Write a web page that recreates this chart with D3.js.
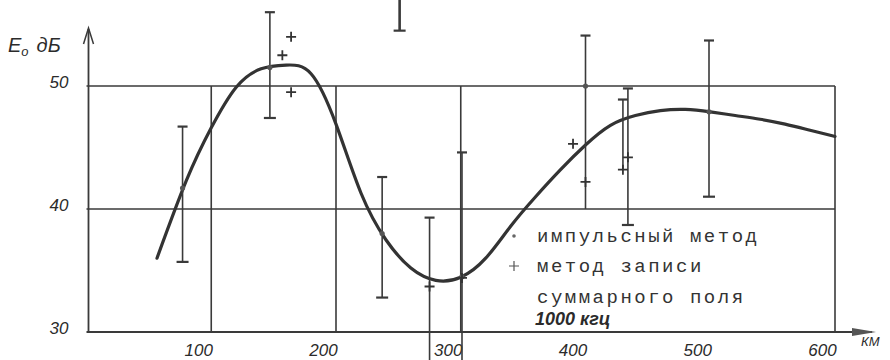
<!DOCTYPE html>
<html>
<head>
<meta charset="utf-8">
<script src="https://cdn.jsdelivr.net/npm/d3@7"></script>
<style>
  body { margin: 0; background: #fff; }
  svg { display: block; }
  .hand { font-family: "Liberation Sans", sans-serif; font-style: italic; fill: #2b2b2b; }
  .typ { font-family: "Liberation Mono", monospace; font-size: 19px; letter-spacing: 2.5px; fill: #333; }
</style>
</head>
<body>
<svg id="chart" width="890" height="360"></svg>
<script>
// smooth curve (km, dB)
const curveKm = [56.5, 80, 100, 120, 140, 160, 180, 200, 220, 240, 260, 280, 300, 320, 340, 360, 380, 400, 420, 440, 460, 480, 500, 520, 540, 560, 580, 600];
const curveDb = [36.0, 42.3, 46.6, 49.9, 51.4, 51.7, 51.0, 46.9, 41.3, 37.5, 35.2, 34.2, 34.45, 36.0, 38.6, 41.0, 43.2, 45.2, 46.8, 47.6, 48.0, 48.1, 47.9, 47.6, 47.3, 46.9, 46.4, 45.9];

// error bars: position, low, high, whether the low end has a cap
const barKm  = [77, 147, 237, 275, 301, 400, 430, 434, 499, 251];
const barLo  = [35.7, 47.4, 32.8, 27.7, 27.7, 40.0, 43.2, 38.7, 41.0, 54.5];
const barHi  = [46.7, 56.0, 42.6, 39.3, 44.6, 54.1, 48.9, 49.8, 53.7, 58.0];
const barCap = [1, 1, 1, 0, 0, 0, 0, 1, 1, 1];

// "импульсный метод" points
const dotKm = [77, 147, 237, 301, 400, 499];
const dotDb = [41.7, 51.5, 38.0, 34.5, 50.0, 47.9];

// "метод записи суммарного поля" points
const plusKm = [157, 164, 164, 275, 301, 390, 400, 430, 434];
const plusDb = [52.5, 54.0, 49.5, 33.7, 34.4, 45.3, 42.2, 43.2, 44.2];

const xTicks = [100, 200, 300, 400, 500, 600];
const yTicks = [30, 40, 50];
const gridX = [100, 200, 300, 600];
const gridY = [40, 50];

const ink = "#3a3a3a";
const svg = d3.select("#chart");

const x = d3.scaleLinear().domain([0, 600]).range([86.5, 835]);
const y = d3.scaleLinear().domain([30, 50]).range([332, 86]);

// grid
svg.append("g").selectAll("line")
   .data(gridY)
   .enter().append("line")
   .attr("x1", x(0)).attr("x2", x(600))
   .attr("y1", d => y(d)).attr("y2", d => y(d))
   .attr("stroke", ink).attr("stroke-width", 1.6);

svg.append("g").selectAll("line")
   .data(gridX)
   .enter().append("line")
   .attr("x1", d => x(d)).attr("x2", d => x(d))
   .attr("y1", y(30)).attr("y2", y(50))
   .attr("stroke", ink).attr("stroke-width", 1.6);

// axes lines with arrows
svg.append("line")
   .attr("x1", x(0)).attr("x2", 872)
   .attr("y1", y(30)).attr("y2", y(30))
   .attr("stroke", ink).attr("stroke-width", 2);
svg.append("path")
   .attr("d", `M852,${y(30) - 4} L876,${y(30)} L852,${y(30) + 4} Z`)
   .attr("fill", "#555");

svg.append("line")
   .attr("x1", x(0) + 2).attr("x2", x(0) + 2)
   .attr("y1", y(30)).attr("y2", 29)
   .attr("stroke", ink).attr("stroke-width", 1.8);
svg.append("path")
   .attr("d", `M${x(0) - 3},44 L${x(0) + 2},28 L${x(0) + 7},44`)
   .attr("fill", "none").attr("stroke", ink).attr("stroke-width", 1.5);

// tick labels
const xAxis = svg.append("g")
   .attr("transform", `translate(0,${y(30)})`)
   .call(d3.axisBottom(x).tickValues(xTicks).tickSize(0).tickPadding(12));
xAxis.select(".domain").remove();
xAxis.selectAll("text")
   .attr("class", "hand")
   .attr("dx", -13)
   .style("font-size", "17px");

const yAxis = svg.append("g")
   .attr("transform", `translate(${x(0)},0)`)
   .call(d3.axisLeft(y).tickValues(yTicks).tickSize(0).tickPadding(18));
yAxis.select(".domain").remove();
yAxis.selectAll("text")
   .attr("class", "hand")
   .attr("dy", "0.1em")
   .style("font-size", "17px");

svg.append("text").attr("class", "hand")
   .attr("x", 861).attr("y", 346)
   .style("font-size", "13px")
   .text("КМ");

// y axis title
const title = svg.append("text").attr("class", "hand")
   .attr("x", 8).attr("y", 52)
   .style("font-size", "20px");
title.append("tspan").text("E");
title.append("tspan").attr("dy", 4).style("font-size", "13px").text("o");
title.append("tspan").attr("dx", 8).attr("dy", -4).text("дБ");

// curve
const line = d3.line()
   .x((d, i) => x(curveKm[i]))
   .y(d => y(d))
   .curve(d3.curveNatural);

svg.append("path")
   .datum(curveDb)
   .attr("d", line)
   .attr("fill", "none")
   .attr("stroke", "#333")
   .attr("stroke-width", 3.2)
   .attr("stroke-linecap", "round");

// error bars
const bars = svg.append("g").selectAll("g")
   .data(barKm.map((k, i) => ({k: k, lo: barLo[i], hi: barHi[i], cap: barCap[i]})))
   .enter().append("g");

bars.append("line")
   .attr("x1", d => x(d.k)).attr("x2", d => x(d.k))
   .attr("y1", d => y(d.lo)).attr("y2", d => y(d.hi))
   .attr("stroke", ink)
   .attr("stroke-width", d => d.k === 251 ? 2.6 : 1.6);

bars.append("line")
   .attr("x1", d => x(d.k) - 5).attr("x2", d => x(d.k) + 5)
   .attr("y1", d => y(d.hi)).attr("y2", d => y(d.hi))
   .attr("stroke", ink).attr("stroke-width", 2.2);

bars.filter(d => d.cap).append("line")
   .attr("x1", d => x(d.k) - 6).attr("x2", d => x(d.k) + 6)
   .attr("y1", d => y(d.lo)).attr("y2", d => y(d.lo))
   .attr("stroke", ink).attr("stroke-width", 2.2);

// dots
svg.append("g").selectAll("circle")
   .data(dotDb)
   .enter().append("circle")
   .attr("cx", (d, i) => x(dotKm[i]))
   .attr("cy", d => y(d))
   .attr("r", 2.6)
   .attr("fill", "#555");

// plus markers
svg.append("g").selectAll("path")
   .data(plusDb)
   .enter().append("path")
   .attr("d", (d, i) => {
      const cx = x(plusKm[i]), cy = y(d);
      return `M${cx - 5},${cy} H${cx + 5} M${cx},${cy - 5} V${cy + 5}`;
   })
   .attr("stroke", "#333")
   .attr("stroke-width", 1.8);

// legend
svg.append("circle").attr("cx", 514).attr("cy", 236).attr("r", 1.8).attr("fill", "#666");
svg.append("path")
   .attr("d", "M509,266 H519 M514,261 V271")
   .attr("stroke", "#555").attr("stroke-width", 1.2);

svg.append("text").attr("class", "typ").attr("x", 537).attr("y", 242).text("импульсный метод");
svg.append("text").attr("class", "typ").attr("x", 537).attr("y", 272).text("метод записи");
svg.append("text").attr("class", "typ").attr("x", 537).attr("y", 303).text("суммарного поля");
svg.append("text").attr("class", "hand")
   .attr("x", 535).attr("y", 325)
   .style("font-size", "18px").style("font-weight", "bold")
   .text("1000 кгц");
</script>
</body>
</html>
